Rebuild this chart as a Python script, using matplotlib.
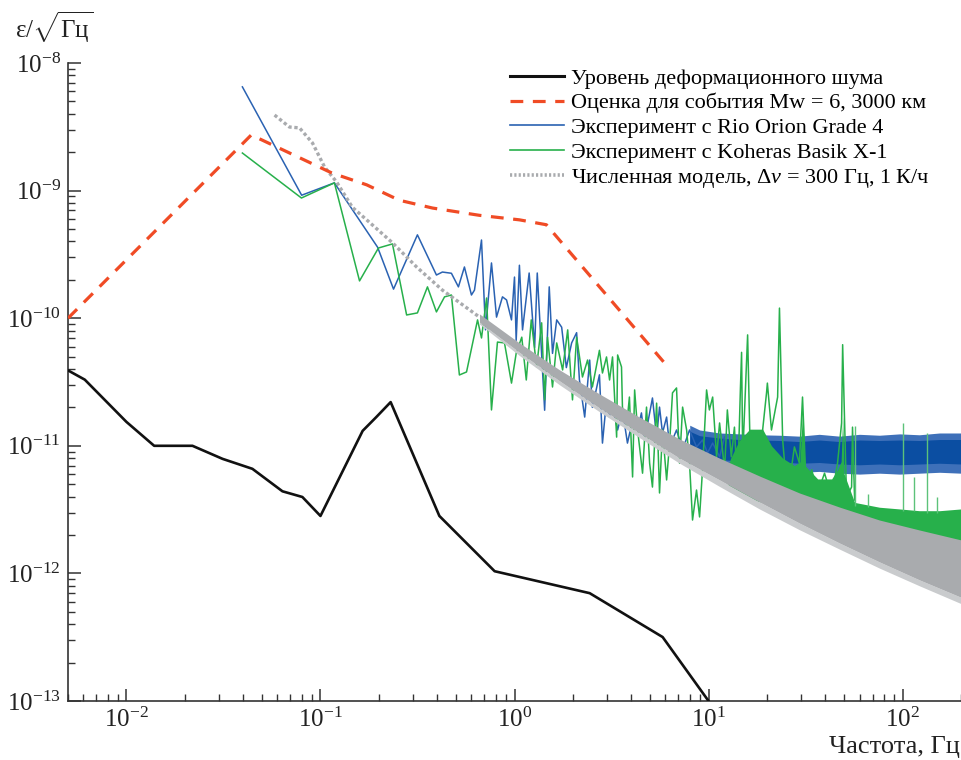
import matplotlib
matplotlib.use('Agg')
import matplotlib.pyplot as plt
from matplotlib.lines import Line2D

plt.rcParams['font.family'] = ['Liberation Serif', 'DejaVu Serif']
plt.rcParams['mathtext.fontset'] = 'custom'
plt.rcParams['mathtext.rm'] = 'Liberation Serif'
plt.rcParams['mathtext.it'] = 'Liberation Serif:italic'

# strain noise level (black)
noise_f = [0.005, 0.0061, 0.01, 0.0139, 0.0219, 0.0313, 0.0446, 0.0637, 0.0807, 0.1,
           0.165, 0.194, 0.23, 0.41, 0.79, 2.44, 5.8, 10.0]
noise_v = [3.9e-11, 3.3e-11, 1.54e-11, 1.0e-11, 1.0e-11, 7.9e-12, 6.6e-12, 4.4e-12, 3.97e-12, 2.82e-12,
           1.31e-11, 1.68e-11, 2.2e-11, 2.82e-12, 1.04e-12, 7.0e-13, 3.17e-13, 1.0e-13]

# Mw = 6 event estimate (red dashed)
event_f = [0.005, 0.04, 0.044, 0.115, 0.173, 0.255, 0.378, 0.66, 1.06, 1.46, 5.9]
event_v = [1e-10, 2.36e-9, 2.73e-9, 1.37e-9, 1.11e-9, 8.4e-10, 7.3e-10, 6.4e-10, 5.9e-10, 5.4e-10, 4.5e-11]

# Rio Orion Grade 4 experiment (blue)
rio_f = [0.0396, 0.080, 0.118, 0.197, 0.238, 0.316, 0.396, 0.425, 0.473, 0.514,
         0.552, 0.600, 0.622, 0.676, 0.709, 0.761, 0.808, 0.867, 0.910, 0.965,
         1.0, 1.02, 1.06, 1.10, 1.19, 1.27, 1.31, 1.43, 1.51, 1.57,
         1.65, 1.75, 1.85, 1.97, 2.09, 2.16, 2.30, 2.44, 2.52, 2.74,
         2.84, 2.98, 3.09, 3.2, 3.4, 3.6, 3.82, 4.06, 4.31, 4.51,
         4.68, 5.14, 5.4, 5.59, 5.79, 6.08, 6.3, 6.84, 7.35, 7.98,
         8.67, 9.31, 9.88, 10.5, 11.4, 12.1]
rio_v = [6.5e-9, 9.2e-10, 1.15e-9, 3.6e-10, 1.69e-10, 4.5e-10, 2.18e-10, 2.3e-10, 2.25e-10, 1.76e-10,
         2.52e-10, 1.52e-10, 1.66e-10, 4.1e-10, 8.1e-11, 2.71e-10, 1.02e-10, 1.47e-10, 1.39e-10, 9.7e-11,
         2.1e-10, 6.7e-11, 2.6e-10, 8.1e-11, 2.26e-10, 5.9e-11, 2.26e-10, 1.9e-11, 1.76e-10, 5.3e-11,
         9.7e-11, 8.5e-11, 4.1e-11, 6.4e-11, 7.7e-11, 3.3e-11, 1.68e-11, 4.7e-11, 2.0e-11, 3.6e-11,
         1.05e-11, 2.29e-11, 1.68e-11, 2.01e-11, 1.33e-11, 1.91e-11, 1.05e-11, 1.59e-11, 1.33e-11, 1.81e-11,
         1.11e-11, 2.37e-11, 1.17e-11, 2.01e-11, 1.26e-11, 1.68e-11, 9.8e-12, 1.33e-11, 9.3e-12, 1.33e-11,
         9.8e-12, 1.11e-11, 8.8e-12, 1.05e-11, 8.2e-12, 1.17e-11]
# dense high-frequency part: solid core and spiky fringe
rio_band_f = [8.0, 9.0, 11.4, 14.4, 18.3, 23.2, 29.4, 37.2, 47.3, 60, 76, 96.5, 122, 155, 200]
rio_core_hi = [1.3e-11, 1.2e-11, 1.15e-11, 1.12e-11, 1.11e-11, 1.1e-11, 1.08e-11, 1.11e-11,
               1.08e-11, 1.11e-11, 1.1e-11, 1.11e-11, 1.1e-11, 1.12e-11, 1.12e-11]
rio_core_lo = [9.0e-12, 8.3e-12, 7.8e-12, 7.6e-12, 7.6e-12, 7.5e-12, 7.3e-12, 7.4e-12,
               7.2e-12, 7.1e-12, 7.2e-12, 7.1e-12, 7.2e-12, 7.3e-12, 7.2e-12]
rio_fringe_hi = [1.45e-11, 1.33e-11, 1.26e-11, 1.24e-11, 1.22e-11, 1.21e-11, 1.19e-11, 1.23e-11,
                 1.19e-11, 1.23e-11, 1.21e-11, 1.24e-11, 1.22e-11, 1.26e-11, 1.26e-11]
rio_fringe_lo = [7.8e-12, 7.3e-12, 6.8e-12, 6.6e-12, 6.6e-12, 6.4e-12, 6.2e-12, 6.3e-12,
                 6.1e-12, 6.0e-12, 6.1e-12, 6.0e-12, 6.1e-12, 6.2e-12, 6.1e-12]

# Koheras Basik X-1 experiment (green)
koh_f = [0.0396, 0.0798, 0.118, 0.159, 0.199, 0.235, 0.278, 0.316, 0.356, 0.396,
         0.436, 0.473, 0.52, 0.566, 0.645, 0.676, 0.718, 0.761, 0.817, 0.888,
         0.965, 1.02, 1.09, 1.15, 1.22, 1.30, 1.38, 1.43, 1.48, 1.57,
         1.65, 1.77, 1.88, 1.99, 2.09, 2.24, 2.38, 2.52, 2.74, 2.84,
         2.98, 3.09, 3.2, 3.36, 3.4, 3.56, 3.6, 3.78, 3.91, 4.06,
         4.16, 4.31, 4.57, 4.79, 4.97, 5.14, 5.4, 5.59, 5.79, 6.08,
         6.3, 6.52, 6.84, 7.09, 7.35, 7.71, 7.98, 8.27, 8.67, 8.99,
         9.31, 9.77, 10.1, 10.5, 11.0, 11.4, 12.1, 12.5, 13.1, 13.6,
         14.1, 14.6, 14.8, 15.0, 15.9, 16.3, 16.9, 17.9, 19.0, 19.9,
         20.1, 21.1, 22.7, 23.2, 24.1, 25.5, 27.7, 29.4, 30.5, 32.0,
         34.0, 36.5, 39.6, 43.1, 46.2, 48.5, 49.1, 51.4, 54.6, 55.2,
         56.6]
koh_v = [1.97e-9, 8.75e-10, 1.15e-9, 1.96e-10, 3.55e-10, 3.82e-10, 1.06e-10, 1.1e-10, 1.76e-10, 1.12e-10,
         1.47e-10, 1.52e-10, 3.59e-11, 3.79e-11, 9.7e-11, 7.0e-11, 1.44e-10, 1.91e-11, 6.5e-11, 6.4e-11,
         3.1e-11, 5.3e-11, 7.1e-11, 3.28e-11, 9.7e-11, 4.15e-11, 9.2e-11, 2.29e-11, 7.1e-11, 2.89e-11,
         6.4e-11, 3.93e-11, 8.1e-11, 2.29e-11, 7.1e-11, 3.46e-11, 4.7e-11, 2.89e-11, 5.6e-11, 3.72e-11,
         4.97e-11, 3.28e-11, 4.97e-11, 1.17e-11, 5.15e-11, 4.15e-11, 2.01e-11, 1.4e-11, 2.41e-11, 5.7e-12,
         2.74e-11, 1.33e-11, 6.1e-12, 2.01e-11, 7.3e-12, 4.75e-12, 2.16e-11, 4.27e-12, 1.33e-11, 5.4e-12,
         1.05e-11, 2.6e-11, 2.84e-11, 7.3e-12, 2.01e-11, 1.33e-11, 7.3e-12, 2.62e-12, 4.5e-12, 2.77e-12,
         6.5e-12, 2.74e-11, 1.91e-11, 2.41e-11, 8.2e-12, 1.51e-11, 6.5e-12, 1.91e-11, 8.2e-12, 1.4e-11,
         4.5e-12, 2.84e-11, 5.4e-11, 8.2e-12, 7.4e-11, 1.33e-11, 3.97e-12, 7.3e-12, 1.33e-11, 2.6e-11,
         3.1e-11, 1.33e-11, 2.41e-11, 1.2e-10, 1.11e-11, 3.97e-12, 9.8e-12, 7.3e-12, 2.41e-11, 3.97e-12,
         6.5e-12, 4.27e-12, 6.1e-12, 3.97e-12, 7.3e-12, 1.51e-11, 6.2e-11, 3.97e-12, 4.75e-12, 1.4e-11,
         3.76e-12]
koh_band_f = [12.0, 13.0, 14.4, 16.3, 19.0, 21.1, 24.1, 27.7, 29.6, 30.5, 31.4, 36.5, 43.1, 46.2,
              48.2, 49.1, 50.0, 56.6, 76, 96.5, 122, 155, 200]
koh_band_hi = [5.5e-12, 8e-12, 1.1e-11, 1.35e-11, 1.35e-11, 1.0e-11, 8e-12, 7e-12, 7.5e-12, 1.9e-11, 7.0e-12,
               5.5e-12, 5.5e-12, 6.5e-12, 7.5e-12, 1.7e-11, 6.0e-12, 3.6e-12, 3.3e-12, 3.2e-12, 3.1e-12,
               3.1e-12, 3.2e-12]
koh_band_lo = [5.5e-12, 4.6e-12, 4.0e-12, 3.8e-12, 3.6e-12, 3.4e-12, 3.2e-12, 3.0e-12, 2.9e-12, 2.85e-12, 2.8e-12,
               2.5e-12, 2.3e-12, 2.2e-12, 2.15e-12, 2.1e-12, 2.05e-12, 1.95e-12, 1.83e-12, 1.76e-12, 1.67e-12,
               1.67e-12, 1.61e-12]
koh_spike_f = [56.6, 66, 100, 115, 133, 150]
koh_spike_v = [1.43e-11, 4.2e-12, 1.51e-11, 5.7e-12, 1.26e-11, 4.0e-12]
koh_spike_base = [3.4e-12, 3.3e-12, 3.1e-12, 3.1e-12, 3.0e-12, 3.0e-12]

# numerical model (grey dotted)
model_f = [0.058, 0.0692, 0.078, 0.091, 0.105, 0.121, 0.146, 0.173, 0.235, 0.313, 0.425, 0.66]
model_v = [3.91e-9, 3.15e-9, 3.1e-9, 2.36e-9, 1.53e-9, 1.17e-9, 7.4e-10, 5.9e-10, 3.9e-10, 2.52e-10, 1.66e-10, 1.02e-10]
model_band_f = [0.66, 1.06, 1.71, 2.74, 4.4, 7.09, 11.4, 18.3, 29.4, 47.3, 76, 122, 200]
model_band_hi = [1.08e-10, 6.4e-11, 3.93e-11, 2.55e-11, 1.68e-11, 1.13e-11, 8.0e-12, 5.8e-12, 4.27e-12,
                 3.31e-12, 2.62e-12, 2.19e-12, 1.83e-12]
model_band_lo = [9.3e-11, 5.4e-11, 3.22e-11, 1.98e-11, 1.26e-11, 8.0e-12, 5.4e-12, 3.63e-12, 2.48e-12,
                 1.73e-12, 1.23e-12, 8.9e-13, 6.5e-13]
model_fringe_lo = [9.0e-11, 5.1e-11, 3.0e-11, 1.85e-11, 1.16e-11, 7.3e-12, 4.8e-12, 3.2e-12, 2.2e-12,
                   1.55e-12, 1.1e-12, 8.0e-13, 5.8e-13]

labels = ['Уровень деформационного шума',
          'Оценка для события Mw = 6, 3000 км',
          'Эксперимент с Rio Orion Grade 4',
          'Эксперимент с Koheras Basik X-1',
          'Численная модель, Δ$\\mathit{v}$ = 300 Гц, 1 К/ч']

c_black = '#111111'
c_red = '#f04b25'
c_blue = '#2a62b2'
c_blue_dark = '#0b4ea2'
c_green = '#27b04b'
c_gray = '#a9abae'

fig = plt.figure(figsize=(9.61, 7.6), dpi=100)
ax = fig.add_axes([68 / 961, 59 / 760, 893 / 961, 638 / 760])
ax.set_xscale('log')
ax.set_yscale('log')

# blue
ax.fill_between(rio_band_f, rio_fringe_lo, rio_fringe_hi, color='#3e70b9', lw=0, zorder=2)
ax.fill_between(rio_band_f, rio_core_lo, rio_core_hi, color=c_blue_dark, lw=0, zorder=2)
ax.plot(rio_f, rio_v, color=c_blue, lw=1.1, zorder=2)

# green
ax.fill_between(koh_band_f, koh_band_lo, koh_band_hi, color=c_green, lw=0, zorder=3)
ax.plot(koh_f, koh_v, color=c_green, lw=1.1, zorder=3)
ax.vlines(koh_spike_f, koh_spike_base, koh_spike_v, color='#5cc27a', lw=1.0, zorder=3)

# grey model
ax.fill_between(model_band_f, model_fringe_lo, model_band_lo, color='#c9cbcd', lw=0, zorder=4)
ax.fill_between(model_band_f, model_band_lo, model_band_hi, color=c_gray, lw=0, zorder=4)
ax.plot(model_f, model_v, color=c_gray, lw=2.4, ls=(0, (1, 0.8)), zorder=4)

ax.plot(event_f, event_v, color=c_red, lw=2.3, ls=(0, (4, 3)), zorder=5)
ax.plot(noise_f, noise_v, color=c_black, lw=1.9, zorder=6)

ax.set_xlim(0.005, 200)
ax.set_ylim(1e-13, 1e-8)

for side in ['top', 'right']:
    ax.spines[side].set_visible(False)
for side in ['left', 'bottom']:
    ax.spines[side].set_color('#333333')
    ax.spines[side].set_linewidth(1.2)

ax.tick_params(which='both', direction='in', colors='#333333', labelcolor='#222222')
ax.tick_params(which='major', length=9, width=1.1, labelsize=18, pad=5)
ax.tick_params(which='minor', length=5, width=1.0)

handles = [Line2D([], [], color=c_black, lw=2.2),
           Line2D([], [], color=c_red, lw=2.3, ls=(0, (4, 3))),
           Line2D([], [], color=c_blue, lw=1.2),
           Line2D([], [], color=c_green, lw=1.2),
           Line2D([], [], color=c_gray, lw=2.6, ls=(0, (0.6, 0.6)))]
ax.legend(handles, labels, loc='upper left', bbox_to_anchor=(510 / 961, 1 - 68 / 760),
          bbox_transform=fig.transFigure, frameon=False, fontsize=16,
          handlelength=2.45, handletextpad=0.3, labelspacing=0.19,
          borderpad=0, borderaxespad=0)

fig.text(15 / 961, 1 - 38 / 760, '$\\mathrm{ε}/\\sqrt{\\mathrm{Гц}}$', fontsize=18,
         va='baseline', ha='left', color='#222222')
fig.text(960 / 961, 0.002, 'Частота, Гц', fontsize=19, ha='right', va='bottom', color='#222222')

fig.savefig('out.png', dpi=100)
